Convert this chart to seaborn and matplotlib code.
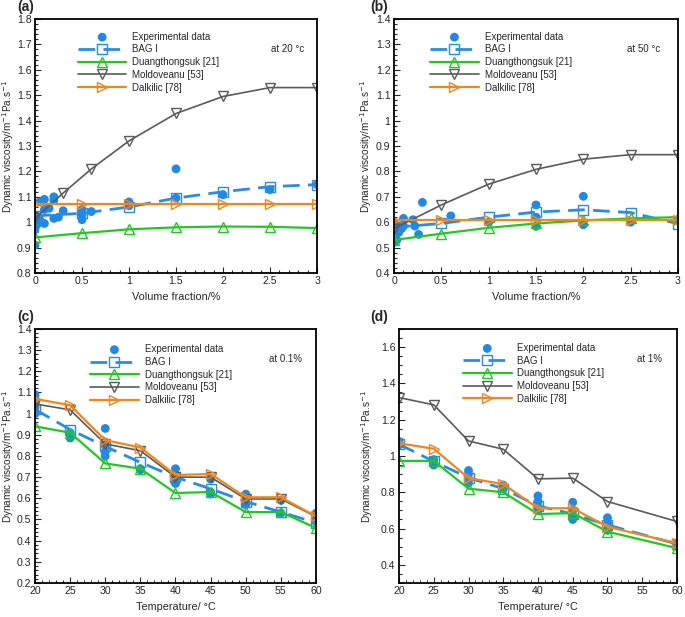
import numpy as np
import pandas as pd
import matplotlib
matplotlib.use("Agg")
import matplotlib.pyplot as plt
import matplotlib.ticker as ticker
import seaborn as sns

# ─── STYLE ────────────────────────────────────────────────────────────────────
sns.set_theme(style="ticks")
plt.rcParams["font.family"] = ["Liberation Sans", "DejaVu Sans"]
FS = 8

C_EXP = "#1f88e8"
C_BAG = "#2a8be6"
C_DUA = "#22c822"
C_MOL = "#5a5a5a"
C_DAL = "#f0871e"

# ─── DATA ─────────────────────────────────────────────────────────────────────
# (a) 20 °C, vs volume fraction
a_exp_x = [0, 0, 0, 0, 0.02, 0.05, 0.05, 0.1, 0.1, 0.1, 0.15, 0.2, 0.2, 0.2, 0.25, 0.3,
           0.5, 0.5, 0.5, 0.5, 0.6, 1.0, 1.0, 1.5, 1.5, 2.0, 2.5, 3.0]
a_exp_y = [0.91, 0.97, 1.0, 1.02, 0.99, 1.01, 1.08, 1.09, 1.05, 0.995, 1.055, 1.1, 1.085, 1.015,
           1.02, 1.045, 1.01, 1.03, 1.04, 1.05, 1.042, 1.08, 1.065, 1.095, 1.21, 1.108, 1.128, 1.148]
a_x = [0, 0.5, 1, 1.5, 2, 2.5, 3]
a_bag = [1.025, 1.035, 1.06, 1.095, 1.12, 1.14, 1.148]
a_dua = [0.94, 0.957, 0.972, 0.98, 0.983, 0.982, 0.977]
a_dal = [1.072, 1.072, 1.072, 1.072, 1.072, 1.072, 1.072]
a_mol_x = [0, 0.3, 0.6, 1, 1.5, 2, 2.5, 3]
a_mol = [1.015, 1.115, 1.21, 1.32, 1.428, 1.495, 1.53, 1.53]

# (b) 50 °C, vs volume fraction
b_exp_x = [0, 0, 0.03, 0.05, 0.05, 0.08, 0.1, 0.1, 0.2, 0.22, 0.26, 0.3, 0.6, 1.0,
           1.5, 1.5, 1.5, 2.0, 2.0, 2.5, 3.0]
b_exp_y = [0.52, 0.6, 0.53, 0.582, 0.56, 0.575, 0.615, 0.585, 0.61, 0.585, 0.552, 0.678,
           0.625, 0.6, 0.668, 0.584, 0.62, 0.702, 0.59, 0.6, 0.61]
b_x = [0, 0.5, 1, 1.5, 2, 2.5, 3]
b_bag = [0.58, 0.595, 0.62, 0.64, 0.649, 0.638, 0.594]
b_dua = [0.53, 0.555, 0.578, 0.595, 0.607, 0.615, 0.62]
b_mol = [0.575, 0.668, 0.75, 0.808, 0.848, 0.866, 0.866]
b_dal = [0.61, 0.61, 0.61, 0.61, 0.61, 0.61, 0.61]

# (c) 0.1 %, vs temperature
c_exp_x = [20, 20, 20, 20, 20, 25, 25, 25, 30, 30, 30, 30, 35, 35, 40, 40, 40, 40,
           45, 45, 45, 50, 50, 50, 50, 55, 55, 60, 60, 60]
c_exp_y = [1.09, 1.07, 1.05, 1.03, 1.0, 0.90, 0.885, 0.91, 0.93, 0.85, 0.82, 0.80,
           0.74, 0.735, 0.74, 0.70, 0.68, 0.67, 0.69, 0.63, 0.62, 0.62, 0.60, 0.58, 0.57,
           0.59, 0.53, 0.53, 0.50, 0.49]
c_x = [20, 25, 30, 35, 40, 45, 50, 55, 60]
c_bag = [1.02, 0.925, 0.845, 0.77, 0.70, 0.645, 0.585, 0.535, 0.485]
c_dua = [0.94, 0.91, 0.765, 0.74, 0.625, 0.63, 0.535, 0.535, 0.46]
c_mol = [1.046, 1.018, 0.857, 0.825, 0.70, 0.70, 0.597, 0.597, 0.513]
c_dal = [1.07, 1.04, 0.875, 0.84, 0.71, 0.715, 0.605, 0.605, 0.515]

# (d) 1 %, vs temperature
d_exp_x = [20, 20, 20, 25, 25, 25, 30, 30, 30, 30, 35, 35, 40, 40, 40, 40,
           45, 45, 45, 45, 50, 50, 50, 50, 60, 60, 60]
d_exp_y = [1.08, 1.06, 1.07, 0.96, 0.95, 0.98, 0.92, 0.90, 0.87, 0.85, 0.84, 0.82,
           0.78, 0.75, 0.72, 0.70, 0.745, 0.70, 0.67, 0.65, 0.66, 0.63, 0.60, 0.59,
           0.52, 0.51, 0.50]
d_x = [20, 25, 30, 35, 40, 45, 50, 60]
d_bag = [1.065, 0.97, 0.88, 0.82, 0.725, 0.68, 0.62, 0.515]
d_dua = [0.973, 0.973, 0.82, 0.80, 0.68, 0.685, 0.583, 0.492]
d_mol = [1.322, 1.282, 1.083, 1.037, 0.874, 0.878, 0.749, 0.639]
d_dal = [1.07, 1.04, 0.878, 0.845, 0.712, 0.712, 0.61, 0.519]

LABELS = ["Experimental data", "BAG I", "Duangthongsuk [21]", "Moldoveanu [53]", "Dalkilic [78]"]
YLABEL = "Dynamic viscosity/m$^{-1}$Pa.s$^{-1}$"


# ─── HELPERS ──────────────────────────────────────────────────────────────────
def model_line(ax, x, y, color, marker, dashed=False):
    df = pd.DataFrame({"x": x, "y": y})
    sns.lineplot(data=df, x="x", y="y", ax=ax, color=color, marker=marker,
                 markersize=7, markerfacecolor="none", markeredgecolor=color,
                 markeredgewidth=1.0, linewidth=2.0 if dashed else (1.6 if color != C_MOL else 1.2),
                 linestyle=(0, (6, 3)) if dashed else "-", sort=False, estimator=None)


def panel(ax, exp_x, exp_y, bag, dua, mol, dal, mol_x, x, letter, letter_x, note,
          xlim, xmajor, xminor, ylim, ymajor, yminor, xlabel, leg_pos, note_x, ylab_px):
    sns.scatterplot(x=exp_x, y=exp_y, ax=ax, color=C_EXP, s=40, edgecolor="none", zorder=1)
    model_line(ax, x, bag, C_BAG, "s", dashed=True)
    model_line(ax, x, dua, C_DUA, "^")
    model_line(ax, mol_x, mol, C_MOL, "v")
    model_line(ax, x, dal, C_DAL, ">")

    ax.set_xlim(*xlim)
    ax.set_ylim(*ylim)
    ax.xaxis.set_major_locator(ticker.MultipleLocator(xmajor))
    ax.xaxis.set_minor_locator(ticker.MultipleLocator(xminor))
    ax.yaxis.set_major_locator(ticker.MultipleLocator(ymajor))
    ax.yaxis.set_minor_locator(ticker.MultipleLocator(yminor))
    ax.xaxis.set_major_formatter(ticker.FuncFormatter(lambda v, _: f"{v:g}"))
    ax.yaxis.set_major_formatter(ticker.FuncFormatter(lambda v, _: f"{round(v, 2):g}"))
    ax.tick_params(which="both", direction="in", labelsize=7.6, width=0.8,
                   top=False, right=False, pad=2.5)
    ax.tick_params(which="major", length=4)
    ax.tick_params(which="minor", length=2)
    for sp in ax.spines.values():
        sp.set_linewidth(1.3)
        sp.set_color("black")
    ax.set_xlabel(xlabel, fontsize=7.8, labelpad=4)
    ax.set_ylabel(YLABEL, fontsize=7.2)
    # label anchor given in figure pixels, converted to axes fraction
    bb = ax.get_position()
    ax.yaxis.set_label_coords((ylab_px / 685 - bb.x0) / bb.width, 0.5)

    handles = [ax.collections[0]] + ax.lines[:4]
    ax.legend(handles, LABELS, loc="upper left", bbox_to_anchor=leg_pos, frameon=False,
              fontsize=7, handlelength=5.0, handletextpad=0.6, labelspacing=0.28,
              borderpad=0, borderaxespad=0, scatterpoints=1, numpoints=1)
    ax.text(note_x, 0.882, note, transform=ax.transAxes, ha="right", va="center", fontsize=7)
    ax.text(letter_x, 1.047, letter, transform=ax.transAxes, ha="left", va="center",
            fontsize=FS + 2, fontweight="bold")


# ─── MAIN ─────────────────────────────────────────────────────────────────────
fig = plt.figure(figsize=(6.85, 6.17), dpi=100)
ax_a = fig.add_axes([0.0511, 0.5575, 0.4117, 0.4117])
ax_b = fig.add_axes([0.5752, 0.5575, 0.4146, 0.4117])
ax_c = fig.add_axes([0.0511, 0.0551, 0.4102, 0.4117])
ax_d = fig.add_axes([0.5825, 0.0551, 0.4058, 0.4117])

panel(ax_a, a_exp_x, a_exp_y, a_bag, a_dua, a_mol, a_dal, a_mol_x, a_x, "(a)", -0.064, "at 20 °c",
      (0, 3), 0.5, 0.1, (0.8, 1.8), 0.1, 0.02, "Volume fraction/%", (0.152, 0.95), 0.954, 15.5)
panel(ax_b, b_exp_x, b_exp_y, b_bag, b_dua, b_mol, b_dal, b_x, b_x, "(b)", -0.085, "at 50 °c",
      (0, 3), 0.5, 0.1, (0.4, 1.4), 0.1, 0.02, "Volume fraction/%", (0.127, 0.95), 0.937, 374)
panel(ax_c, c_exp_x, c_exp_y, c_bag, c_dua, c_mol, c_dal, c_x, c_x, "(c)", -0.064, "at 0.1%",
      (20, 60), 5, 1, (0.2, 1.4), 0.1, 0.02, "Temperature/ °C", (0.196, 0.94), 0.95, 15.5)
panel(ax_d, d_exp_x, d_exp_y, d_bag, d_dua, d_mol, d_dal, d_x, d_x, "(d)", -0.104, "at 1%",
      (20, 60), 5, 1, (0.3, 1.7), 0.2, 0.05, "Temperature/ °C", (0.23, 0.945), 0.946, 375)

fig.savefig("out.png", dpi=100)
